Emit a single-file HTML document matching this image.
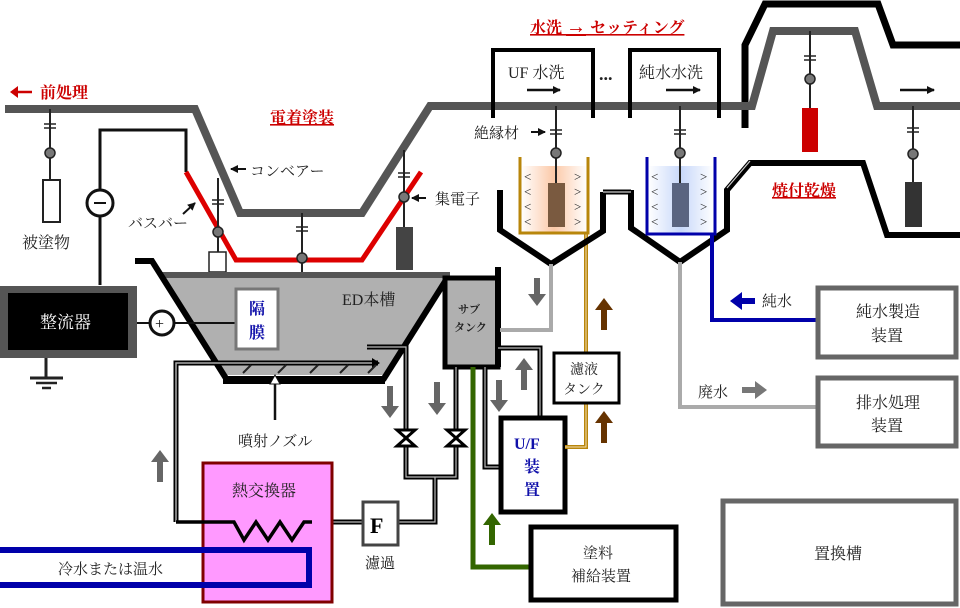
<!DOCTYPE html>
<html><head><meta charset="utf-8"><style>
html,body{margin:0;padding:0;background:#fff}
svg{display:block}
text{font-family:"Liberation Serif","Noto Serif CJK SC",serif;fill:#222}
</style></head><body>
<svg width="960" height="608" viewBox="0 0 960 608" xmlns="http://www.w3.org/2000/svg">
<defs>
<linearGradient id="og" x1="0" x2="1"><stop offset="0" stop-color="#fff"/><stop offset="0.5" stop-color="#fcc9a8"/><stop offset="1" stop-color="#fff"/></linearGradient>
<linearGradient id="bg" x1="0" x2="1"><stop offset="0" stop-color="#fff"/><stop offset="0.5" stop-color="#c8d8fa"/><stop offset="1" stop-color="#fff"/></linearGradient>
<g id="cap"><line x1="-6" y1="-2" x2="6" y2="-2" stroke="#222" stroke-width="1.5"/><line x1="-6" y1="2" x2="6" y2="2" stroke="#222" stroke-width="1.5"/></g>
<marker id="ah" markerWidth="8" markerHeight="8" refX="7" refY="4" orient="auto" markerUnits="userSpaceOnUse"><path d="M0,0 L8,4 L0,8 z" fill="#111"/></marker>
</defs>

<polyline points="745,128 745,45 765,4 878,4 893,45 960,45" fill="none" stroke="#000" stroke-width="7"/>
<polyline points="5,109 195,109 240,213 362,213 430,106 752,106 773,31 855,31 877,106 960,106" fill="none" stroke="#555" stroke-width="8" stroke-linejoin="miter"/>

<polyline points="493,118 493,50 593,50 593,118" fill="none" stroke="#000" stroke-width="4"/>
<polyline points="630,118 630,50 719,50 719,118" fill="none" stroke="#000" stroke-width="4"/>
<text x="508" y="78" font-size="16">UF 水洗</text>
<text x="639" y="78" font-size="16">純水水洗</text>
<line x1="527" y1="90" x2="560" y2="90" stroke="#111" stroke-width="2.5" marker-end="url(#ah)"/>
<line x1="666" y1="90" x2="700" y2="90" stroke="#111" stroke-width="2.5" marker-end="url(#ah)"/>
<line x1="900" y1="90" x2="934" y2="90" stroke="#111" stroke-width="2.5" marker-end="url(#ah)"/>
<text x="599" y="80" font-size="18" font-weight="bold" fill="#113">...</text>

<!-- titles -->
<line x1="32" y1="92" x2="12" y2="92" stroke="#c00" stroke-width="2.5"/>
<path d="M10,92 L18,86 L18,98 z" fill="#c00"/>
<text x="40" y="98" font-size="16" font-weight="bold" style="fill:#c00">前処理</text>
<text x="270" y="123" font-size="16" font-weight="bold" style="fill:#c00" text-decoration="underline">電着塗装</text>
<text x="530" y="33" font-size="16" font-weight="bold" style="fill:#c00" text-decoration="underline">水洗 <tspan font-size="20">→</tspan> セッティング</text>
<text x="772" y="196" font-size="16" font-weight="bold" style="fill:#c00" text-decoration="underline">焼付乾燥</text>

<line x1="50" y1="109" x2="50" y2="180" stroke="#222" stroke-width="2"/>
<use href="#cap" x="50" y="126"/>
<circle cx="50" cy="153" r="5" fill="#777" stroke="#222" stroke-width="1.5"/>
<rect x="43" y="180" width="17" height="42" fill="#fff" stroke="#222" stroke-width="2"/>
<text x="22" y="248" font-size="16">被塗物</text>

<polyline points="100,285 100,130 186,130 186,172" fill="none" stroke="#111" stroke-width="3"/>
<circle cx="100" cy="203" r="13" fill="#fff" stroke="#111" stroke-width="3"/>
<line x1="94" y1="203" x2="106" y2="203" stroke="#111" stroke-width="2"/>

<polyline points="186,172 236,260 362,260 421,172" fill="none" stroke="#d00" stroke-width="5"/>

<line x1="218" y1="178" x2="218" y2="252" stroke="#222" stroke-width="2"/>
<use href="#cap" x="218" y="202"/>
<circle cx="218" cy="232" r="5" fill="#777" stroke="#222" stroke-width="1.5"/>
<rect x="209" y="252" width="17" height="20" fill="#fff" stroke="#222" stroke-width="1.5"/>
<rect x="209" y="272" width="17" height="23" fill="#444"/>
<line x1="302" y1="213" x2="302" y2="285" stroke="#222" stroke-width="2"/>
<use href="#cap" x="302" y="229"/>
<circle cx="302" cy="258" r="5" fill="#777" stroke="#222" stroke-width="1.5"/>
<rect x="295" y="285" width="17" height="42" fill="#444"/>
<line x1="404" y1="150" x2="404" y2="227" stroke="#222" stroke-width="2"/>
<use href="#cap" x="404" y="175"/>
<circle cx="404" cy="197" r="5" fill="#777" stroke="#222" stroke-width="1.5"/>
<rect x="396" y="227" width="17" height="43" fill="#444"/>

<text x="250" y="176" font-size="15">コンベアー</text>
<line x1="246" y1="169" x2="231" y2="169" stroke="#111" stroke-width="2" marker-end="url(#ah)"/>
<text x="128" y="228" font-size="15">バスバー</text>
<line x1="183" y1="214" x2="195" y2="203" stroke="#111" stroke-width="2" marker-end="url(#ah)"/>
<text x="435" y="204" font-size="15">集電子</text>
<line x1="426" y1="198" x2="412" y2="198" stroke="#111" stroke-width="2" marker-end="url(#ah)"/>

<polygon points="163,275 448,275 385,375 227,375" fill="#b0b0b0"/>
<line x1="160" y1="275" x2="450" y2="275" stroke="#555" stroke-width="6"/>
<polyline points="135,261 152,261 227,380" fill="none" stroke="#000" stroke-width="6"/>
<line x1="446" y1="280" x2="383" y2="380" stroke="#000" stroke-width="6"/>
<rect x="223" y="376" width="162" height="8" fill="#000"/>
<text x="342" y="305" font-size="16">ED本槽</text>
<path d="M176,522 V363 H378" fill="none" stroke="#000" stroke-width="5"/>
<path d="M176,522 V363 H378" fill="none" stroke="#aaa" stroke-width="1.5"/>
<path d="M372,358 L380,363 L372,368 z" fill="#000"/>
<g stroke="#222" stroke-width="2"><line x1="243" y1="373" x2="251" y2="365"/><line x1="278" y1="373" x2="286" y2="365"/><line x1="310" y1="373" x2="318" y2="365"/><line x1="340" y1="373" x2="348" y2="365"/><line x1="368" y1="373" x2="376" y2="365"/></g>
<line x1="275" y1="420" x2="275" y2="384" stroke="#111" stroke-width="2.5"/>
<path d="M270,384 L275,375 L280,384 z" fill="#fff" stroke="#111" stroke-width="1"/>
<text x="238" y="446" font-size="15">噴射ノズル</text>

<rect x="0" y="286" width="137" height="72" fill="#555"/>
<rect x="8" y="293" width="120" height="57" fill="#000"/>
<text x="40" y="328" font-size="17" style="fill:#fff">整流器</text>
<line x1="46" y1="358" x2="46" y2="378" stroke="#222" stroke-width="3"/>
<line x1="30" y1="378" x2="63" y2="378" stroke="#222" stroke-width="3"/>
<line x1="36" y1="383" x2="57" y2="383" stroke="#222" stroke-width="2.5"/>
<line x1="42" y1="388" x2="51" y2="388" stroke="#222" stroke-width="2.5"/>
<line x1="137" y1="323" x2="236" y2="323" stroke="#111" stroke-width="2"/>
<circle cx="162" cy="323" r="12" fill="#fff" stroke="#111" stroke-width="3"/>
<text x="155" y="329" font-size="16" style="fill:#111">+</text>
<rect x="236" y="289" width="42" height="60" fill="#fff" stroke="#777" stroke-width="3"/>
<text x="249" y="314" font-size="16" font-weight="bold" style="fill:#11a">隔</text>
<text x="249" y="338" font-size="16" font-weight="bold" style="fill:#11a">膜</text>

<rect x="445" y="278" width="53" height="89" fill="#b0b0b0" stroke="#000" stroke-width="5"/>
<line x1="498" y1="267" x2="498" y2="367" stroke="#000" stroke-width="6"/>
<text x="458" y="313" font-size="11" font-weight="bold">サブ</text>
<text x="454" y="331" font-size="11" font-weight="bold">タンク</text>

<g fill="none" stroke="#000" stroke-width="5">
<path d="M367,347 H406 V477 H456 V367"/>
<path d="M310,522 H363 M398,522 H435 V477"/>
<path d="M485,367 V467 H501"/>
<path d="M498,348 H540 V418"/>
</g>
<g fill="none" stroke="#bbb" stroke-width="1.2">
<path d="M367,347 H406 V477 H456 V367"/>
<path d="M310,522 H363 M398,522 H435 V477"/>
<path d="M485,367 V467 H501"/>
<path d="M498,348 H540 V418"/>
</g>
<g fill="#fff" stroke="#000" stroke-width="3">
<path d="M397,430 L415,430 L397,446 L415,446 z"/>
<path d="M447,430 L465,430 L447,446 L465,446 z"/>
</g>
<g fill="#666">
<path d="M387,386 h6 v20 h6 l-9,12 l-9,-12 h6 z"/>
<path d="M434,382 h6 v21 h6 l-9,12 l-9,-12 h6 z"/>
<path d="M157,482 h6 v-20 h6 l-9,-12 l-9,12 h6 z"/>
<path d="M496,380 h6 v20 h6 l-9,12 l-9,-12 h6 z"/>
<path d="M521,390 h6 v-20 h6 l-9,-12 l-9,12 h6 z"/>
<path d="M534,278 h6 v16 h6 l-9,12 l-9,-12 h6 z"/>
</g>

<rect x="203" y="463" width="129" height="139" fill="#ff99ff" stroke="#800000" stroke-width="3"/>
<text x="232" y="496" font-size="16">熱交換器</text>
<path d="M0,550 H309 V585 H0" fill="none" stroke="#0000aa" stroke-width="6"/>
<text x="58" y="574" font-size="15">冷水または温水</text>
<path d="M176,522 H234 L244,540 L256,522 L268,540 L280,522 L292,540 L304,522 H312" fill="none" stroke="#000" stroke-width="3.5"/>
<rect x="363" y="502" width="35" height="43" fill="#fff" stroke="#444" stroke-width="3"/>
<text x="370" y="533" font-size="22" font-weight="bold" style="fill:#000">F</text>
<text x="365" y="568" font-size="15">濾過</text>

<path d="M473,367 V567 H531" fill="none" stroke="#336600" stroke-width="5"/>
<path d="M489,545 h6 v-20 h6 l-9,-12 l-9,12 h6 z" fill="#336600"/>

<rect x="501" y="418" width="64" height="94" fill="#fff" stroke="#000" stroke-width="5"/>
<text x="514" y="449" font-size="16" font-weight="bold" style="fill:#11a">U/F</text>
<text x="524" y="472" font-size="16" font-weight="bold" style="fill:#11a">装</text>
<text x="524" y="495" font-size="16" font-weight="bold" style="fill:#11a">置</text>
<path d="M586,233 V353 M586,403 V447 H565" fill="none" stroke="#b8860b" stroke-width="4"/>
<path d="M586,233 V353 M586,403 V447 H565" fill="none" stroke="#f5deb3" stroke-width="1"/>
<rect x="554" y="353" width="65" height="50" fill="#fff" stroke="#000" stroke-width="3"/>
<text x="570" y="374" font-size="14">濾液</text>
<text x="563" y="394" font-size="14">タンク</text>
<g fill="#663300">
<path d="M601,330 h6 v-20 h6 l-9,-12 l-9,12 h6 z"/>
<path d="M601,443 h6 v-20 h6 l-9,-12 l-9,12 h6 z"/>
</g>
<rect x="531" y="527" width="145" height="73" fill="#fff" stroke="#000" stroke-width="5"/>
<text x="583" y="558" font-size="15">塗料</text>
<text x="571" y="581" font-size="15">補給装置</text>

<polyline points="500,190 500,230 551,264 603,231 603,192" fill="none" stroke="#000" stroke-width="6"/>
<polyline points="631,190 631,228 680,262 727,230 727,190 750,163 863,163 887,235 960,235" fill="none" stroke="#000" stroke-width="6"/>
<path d="M603,192 H631" stroke="#000" stroke-width="5"/>
<path d="M603,192 H631 M727,188 L750,161" stroke="#ccc" stroke-width="1.2" fill="none"/>
<rect x="521" y="166" width="66" height="66" fill="url(#og)"/>
<polyline points="520,157 520,233 588,233 588,157" fill="none" stroke="#b8860b" stroke-width="3"/>
<rect x="548" y="183" width="17" height="44" fill="#7a5a40"/>
<g font-size="13" style="fill:#b8860b"><text x="524" y="181">&lt;</text><text x="524" y="196">&lt;</text><text x="524" y="211">&lt;</text><text x="524" y="226">&lt;</text><text x="574" y="181">&gt;</text><text x="574" y="196">&gt;</text><text x="574" y="211">&gt;</text><text x="574" y="226">&gt;</text></g>
<rect x="648" y="166" width="66" height="67" fill="url(#bg)"/>
<polyline points="647,157 647,234 715,234 715,157" fill="none" stroke="#0000aa" stroke-width="3"/>
<rect x="672" y="183" width="17" height="44" fill="#5a6480"/>
<g font-size="13" style="fill:#22a"><text x="651" y="181">&lt;</text><text x="651" y="196">&lt;</text><text x="651" y="211">&lt;</text><text x="651" y="226">&lt;</text><text x="700" y="181">&gt;</text><text x="700" y="196">&gt;</text><text x="700" y="211">&gt;</text><text x="700" y="226">&gt;</text></g>

<g stroke="#222" stroke-width="2">
<line x1="556" y1="106" x2="556" y2="183"/><line x1="680" y1="106" x2="680" y2="183"/>
<line x1="810" y1="31" x2="810" y2="108"/><line x1="913" y1="106" x2="913" y2="182"/>
</g>
<use href="#cap" x="556" y="132"/><use href="#cap" x="680" y="132"/><use href="#cap" x="810" y="58"/><use href="#cap" x="913" y="130"/>
<g fill="#777" stroke="#222" stroke-width="1.5">
<circle cx="556" cy="153" r="5"/><circle cx="680" cy="153" r="5"/><circle cx="810" cy="79" r="5"/><circle cx="913" cy="154" r="5"/>
</g>
<rect x="802" y="108" width="16" height="44" fill="#c00"/>
<rect x="905" y="182" width="17" height="45" fill="#333"/>
<text x="474" y="138" font-size="15">絶縁材</text>
<line x1="531" y1="132" x2="545" y2="132" stroke="#111" stroke-width="2" marker-end="url(#ah)"/>

<path d="M551,264 V330 H500" fill="none" stroke="#aaa" stroke-width="4"/>
<path d="M680,262 V407 H817" fill="none" stroke="#aaa" stroke-width="4"/>
<path d="M712,233 V320 H817" fill="none" stroke="#0000aa" stroke-width="4"/>
<path d="M755,298 h-13 v-6 l-12,9 l12,9 v-6 h13 z" fill="#0000aa"/>
<text x="762" y="306" font-size="15">純水</text>
<path d="M742,387 h13 v-6 l12,9 l-12,9 v-6 h-13 z" fill="#777"/>
<text x="698" y="397" font-size="15">廃水</text>
<rect x="818" y="288" width="138" height="69" fill="#fff" stroke="#666" stroke-width="5"/>
<text x="856" y="317" font-size="16">純水製造</text>
<text x="871" y="341" font-size="16">装置</text>
<rect x="818" y="378" width="138" height="68" fill="#fff" stroke="#666" stroke-width="5"/>
<text x="856" y="408" font-size="16">排水処理</text>
<text x="871" y="431" font-size="16">装置</text>
<rect x="723" y="501" width="233" height="103" fill="#fff" stroke="#666" stroke-width="5"/>
<text x="814" y="559" font-size="16">置換槽</text>
</svg>
</body></html>
